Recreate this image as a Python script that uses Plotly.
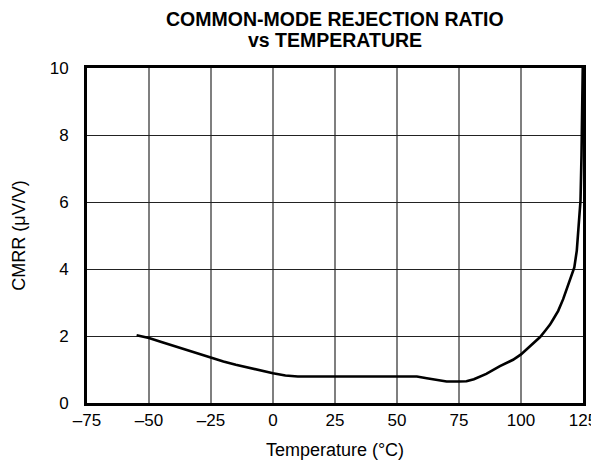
import plotly.graph_objects as go

temperature = [-55, -50, -45, -40, -35, -30, -25, -20, -15, -10, -5, 0, 5, 10, 20, 30, 40, 50, 58,
               62, 66, 70, 75, 78, 81, 86, 91.5, 96.8, 100, 102.4, 105, 107.7, 110, 111.7, 113,
               115, 117, 119, 120.5, 121.5, 122.5, 123.3, 124, 124.4, 124.7, 124.9]
cmrr = [2.02, 1.94, 1.82, 1.70, 1.58, 1.46, 1.36, 1.24, 1.14, 1.05, 0.97, 0.89, 0.82, 0.79, 0.79, 0.79,
        0.79, 0.79, 0.79, 0.74, 0.68, 0.64, 0.64, 0.65, 0.71, 0.87, 1.10, 1.29, 1.45, 1.62, 1.78,
        1.97, 2.18, 2.34, 2.50, 2.75, 3.10, 3.55, 3.85, 4.05, 4.55, 5.25, 6.05, 7.4, 8.8, 10.0]

x_ticks = [-75, -50, -25, 0, 25, 50, 75, 100, 125]
x_tick_labels = ["\u201375", "\u201350", "\u201325", "0", "25", "50", "75", "100", "125"]
y_ticks = [0, 2, 4, 6, 8, 10]
title_lines = ["COMMON-MODE REJECTION RATIO", "vs TEMPERATURE"]

FONT = "Liberation Sans, Arial, Helvetica, sans-serif"
W, H = 591, 458
L, R, T, B = 79, 16, 60, 63
PH = H - T - B

fig = go.Figure()
fig.add_trace(go.Scatter(x=temperature, y=cmrr, mode="lines",
                         line=dict(color="black", width=2.6), showlegend=False))

for txt, fy in zip(title_lines, [10.5, 32.0]):
    fig.add_annotation(text="<b>" + txt + "</b>", xref="paper", yref="paper",
                       x=0.5, y=1 + (T - fy) / PH, xanchor="center", yanchor="middle",
                       showarrow=False, font=dict(size=19.5, family=FONT, color="black"))

fig.update_layout(
    width=W, height=H,
    margin=dict(l=L, r=R, t=T, b=B, autoexpand=False),
    paper_bgcolor="white", plot_bgcolor="white",
    font=dict(family=FONT, color="black", size=17),
    xaxis=dict(range=[-75, 125], tickvals=x_ticks, ticktext=x_tick_labels,
               showgrid=True, gridcolor="#7f7f7f", gridwidth=1.5,
               showline=True, linecolor="black", linewidth=3, mirror=True,
               ticks="", zeroline=False, tickfont=dict(size=17),
               ticklabeloverflow="allow",
               title=dict(text="Temperature (°C)", font=dict(size=18), standoff=14)),
    yaxis=dict(range=[0, 10], tickvals=y_ticks,
               showgrid=True, gridcolor="#222222", gridwidth=1,
               showline=True, linecolor="black", linewidth=3, mirror=True,
               ticks="", zeroline=False, tickfont=dict(size=17),
               ticklabelstandoff=12,
               title=dict(text="CMRR (\u03bcV/V)", font=dict(size=18), standoff=20)),
)

fig.write_html("out.html", default_width="583px", default_height="450px")
